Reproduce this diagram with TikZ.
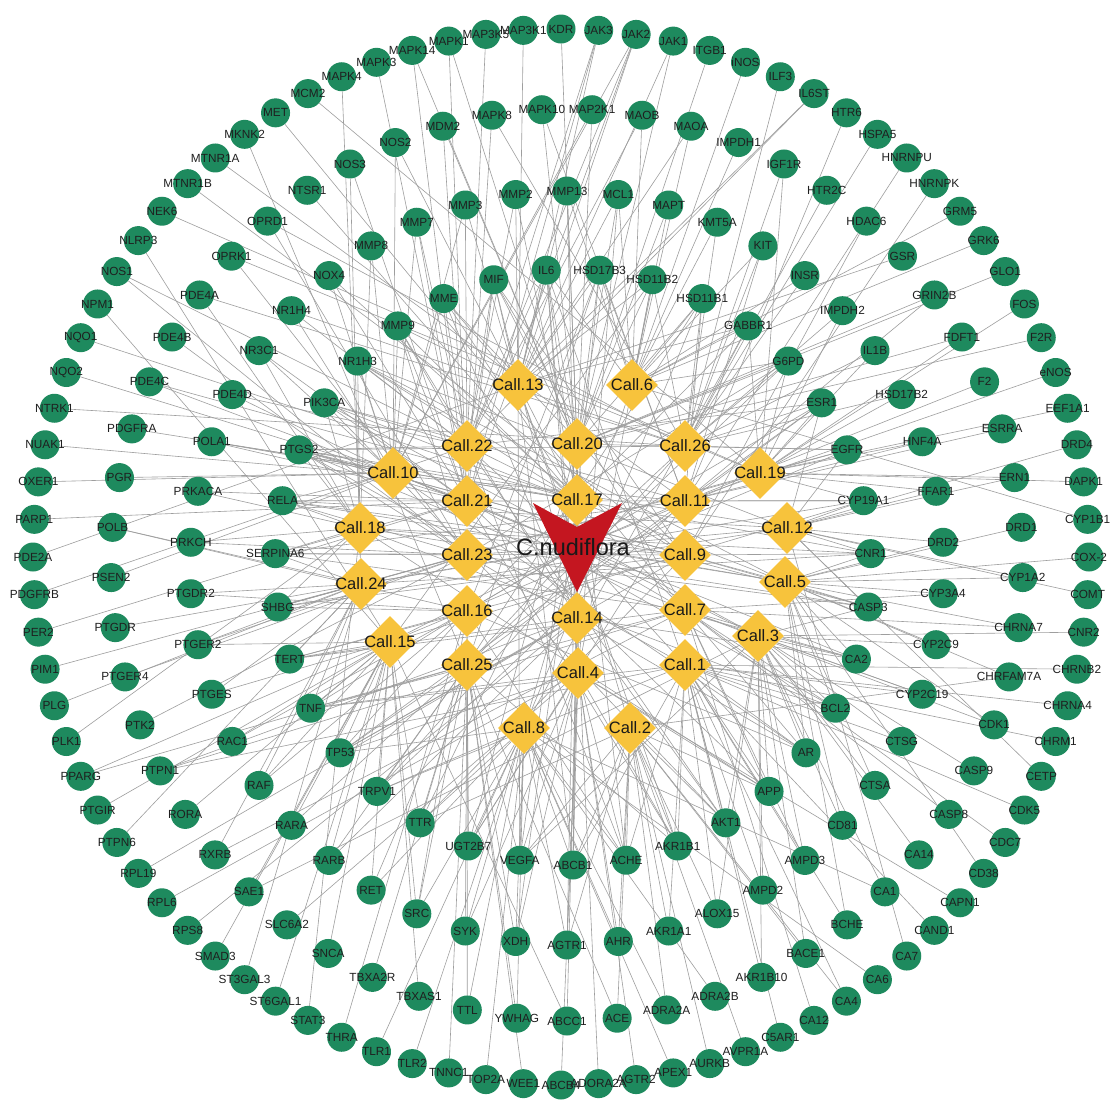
\documentclass[tikz,border=0pt]{standalone}
\usepackage{fontspec}
\setmainfont{Liberation Sans}
\usetikzlibrary{shapes.geometric}
\pgfdeclarelayer{bg}
\pgfdeclarelayer{fg}
\pgfsetlayers{bg,main,fg}
\definecolor{tgreen}{RGB}{30,138,94}
\definecolor{cyell}{RGB}{247,195,60}
\definecolor{hred}{RGB}{196,22,32}
\def\ringA{KDR,JAK3,JAK2,JAK1,ITGB1,iNOS,ILF3,IL6ST,HTR6,HSPA5,HNRNPU,HNRNPK,GRM5,GRK6,GLO1,FOS,F2R,eNOS,EEF1A1,DRD4,DAPK1,CYP1B1,COX-2,COMT,CNR2,CHRNB2,CHRNA4,CHRM1,CETP,CDK5,CDC7,CD38,CAPN1,CAND1,CA7,CA6,CA4,CA12,C5AR1,AVPR1A,AURKB,APEX1,AGTR2,ADORA2A,ABCB4,WEE1,TOP2A,TNNC1,TLR2,TLR1,THRA,STAT3,ST6GAL1,ST3GAL3,SMAD3,RPS8,RPL6,RPL19,PTPN6,PTGIR,PPARG,PLK1,PLG,PIM1,PER2,PDGFRB,PDE2A,PARP1,OXER1,NUAK1,NTRK1,NQO2,NQO1,NPM1,NOS1,NLRP3,NEK6,MTNR1B,MTNR1A,MKNK2,MET,MCM2,MAPK4,MAPK3,MAPK14,MAPK1,MAP3K5,MAP3K1}
\def\ringB{MAPK10,MAPK8,MDM2,NOS2,NOS3,NTSR1,OPRD1,OPRK1,PDE4A,PDE4B,PDE4C,PDGFRA,PGR,POLB,PSEN2,PTGDR,PTGER4,PTK2,PTPN1,RORA,RXRB,SAE1,SLC6A2,SNCA,TBXA2R,TBXAS1,TTL,YWHAG,ABCC1,ACE,ADRA2A,ADRA2B,AKR1B10,BACE1,BCHE,CA1,CA14,CASP8,CASP9,CDK1,CHRFAM7A,CHRNA7,CYP1A2,DRD1,ERN1,ESRRA,F2,FDFT1,GRIN2B,GSR,HDAC6,HTR2C,IGF1R,IMPDH1,MAOA,MAOB,MAP2K1}
\def\ringC{MMP13,MMP2,MMP3,MMP7,MMP8,NOX4,NR1H4,NR3C1,PDE4D,POLA1,PRKACA,PRKCH,PTGDR2,PTGER2,PTGES,RAC1,RAF,RARA,RARB,RET,SRC,SYK,XDH,AGTR1,AHR,AKR1A1,ALOX15,AMPD2,AMPD3,CD81,CTSA,CTSG,CYP2C19,CYP2C9,CYP3A4,DRD2,FFAR1,HNF4A,HSD17B2,IL1B,IMPDH2,INSR,KIT,KMT5A,MAPT,MCL1}
\def\ringD{HSD17B3,IL6,MIF,MME,MMP9,NR1H3,PIK3CA,PTGS2,RELA,SERPINA6,SHBG,TERT,TNF,TP53,TRPV1,TTR,UGT2B7,VEGFA,ABCB1,ACHE,AKR1B1,AKT1,APP,AR,BCL2,CA2,CASP3,CNR1,CYP19A1,EGFR,ESR1,G6PD,GABBR1,HSD11B1,HSD11B2}
\begin{document}
\begin{tikzpicture}[x=1pt,y=-1pt,
  tgt/.style={circle,fill=tgreen,draw=none,minimum size=29pt,inner sep=0pt},
  cpd/.style={diamond,fill=cyell,draw=none,minimum width=52pt,minimum height=52pt,inner sep=0pt},
  tlab/.style={font=\fontsize{11.8}{12}\selectfont,text=black!88,inner sep=0pt},
  clab/.style={font=\fontsize{16.5}{17}\selectfont,text=black!90,inner sep=0pt},
  hlab/.style={font=\fontsize{23.5}{24}\selectfont,text=black!90,inner sep=0pt},
  edge/.style={draw=black!38,line width=0.6pt}]
\useasboundingbox (0,0) rectangle (1111,1101);
% rings of targets
\foreach \n [count=\k] in \ringA {
  \pgfmathsetmacro\a{90-(\k-1)*4.090909}
  \node[tgt] (\n) at ({561+528*cos(\a)},{557-528*sin(\a)}) {};
}
\foreach \n [count=\k] in \ringB {
  \pgfmathsetmacro\a{93.158+(\k-1)*6.315789}
  \node[tgt] (\n) at ({567+456*cos(\a)},{565-456*sin(\a)}) {};
}
\foreach \n [count=\k] in \ringC {
  \pgfmathsetmacro\a{90+(\k-1)*7.826087}
  \node[tgt] (\n) at ({567+377*cos(\a)},{568-377*sin(\a)}) {};
}
\foreach \n [count=\k] in \ringD {
  \pgfmathsetmacro\a{84.857+(\k-1)*10.285714}
  \node[tgt] (\n) at ({573+298*cos(\a)},{567-298*sin(\a)}) {};
}
% compounds
\foreach \i/\x/\y in {1/685/665,2/630/728,3/758/636,4/578/673,5/785/582,6/632/385,7/685/610,8/524/728,9/685/555,10/393/473,11/685/501,12/787/528,13/518/385,14/577/618,15/390/642,16/467/611,17/577/500,18/360/528,19/760/473,20/577/444,21/467/501,22/467/446,23/467/555,24/361/584,25/467/665,26/685/446} {
  \node[cpd] (c\i) at (\x,\y) {};
}
% herb
\node[circle,minimum size=4pt,inner sep=0pt] (herb) at (577,547) {};
\fill[hred] (533,503) -- (577,527) -- (622,503) -- (577,592) -- cycle;
% edges
\begin{pgfonlayer}{bg}
\fill[white] (0,0) rectangle (1111,1101);
\foreach \i in {1,...,26} { \draw[edge] (herb) -- (c\i); }
\foreach \t/\cs in {KDR/20,JAK3/{13,22,21},JAK2/{13,22,10,21},JAK1/{13,20},ITGB1/20,iNOS/6,ILF3/26,IL6ST/{13,22},HTR6/11,HSPA5/26,HNRNPU/11,HNRNPK/9,GRM5/6,GRK6/6,GLO1/20,FOS/19,F2R/20,eNOS/11,EEF1A1/19,DRD4/12,DAPK1/19,CYP1B1/6,COX-2/5,COMT/12,CNR2/3,CHRNB2/1,CHRNA4/1,CHRM1/1,CETP/12,CDK5/1,CDC7/7,CD38/5,CAPN1/4,CAND1/1,CA7/12,CA6/8,CA4/{1,2},CA12/7,C5AR1/1,AVPR1A/2,AURKB/2,APEX1/8,AGTR2/4,ADORA2A/14,ABCB4/4,WEE1/25,TOP2A/8,TNNC1/25,TLR2/8,TLR1/8,THRA/16,STAT3/18,ST6GAL1/15,ST3GAL3/24,SMAD3/15,RPS8/14,RPL6/4,RPL19/14,PTPN6/24,PTGIR/15,PPARG/{15,25},PLK1/18,PLG/24,PIM1/23,PER2/21,PDGFRB/22,PDE2A/13,PARP1/21,OXER1/10,NUAK1/11,NTRK1/26,NQO2/10,NQO1/17,NPM1/15,NOS1/{17,23},NLRP3/15,NEK6/19,MTNR1B/9,MTNR1A/11,MKNK2/25,MET/7,MCM2/19,MAPK4/18,MAPK3/21,MAPK14/{21,20},MAPK1/{21,20},MAP3K5/22,MAP3K1/13,
MAPK10/{20,11},MAPK8/{21,26},MDM2/{20,21},NOS2/{10,17},NOS3/{24,21},NTSR1/17,OPRD1/{26,23},OPRK1/{19,23},PDE4A/{26,18},PDE4B/23,PDE4C/{17,21},PDGFRA/17,PGR/10,POLB/{24,16},PSEN2/10,PTGDR/24,PTGER4/23,PTK2/23,PTPN1/{7,14,1},RORA/15,RXRB/{24,7},SAE1/{3,15},SLC6A2/4,SNCA/15,TBXA2R/25,TBXAS1/15,TTL/{16,8},YWHAG/{8,25},ABCC1/{14,15},ACE/{2,25},ADRA2A/{8,2},ADRA2B/8,AKR1B10/{3,1},BACE1/{2,3},BCHE/{5,1},CA1/{8,3},CA14/3,CASP8/7,CASP9/3,CDK1/{5,7},CHRFAM7A/{2,5},CHRNA7/{5,7},CYP1A2/{5,12},DRD1/5,ERN1/{12,19},ESRRA/11,F2/11,FDFT1/{19,20},GRIN2B/{11,20},GSR/13,HDAC6/9,HTR2C/26,IGF1R/{19,26},IMPDH1/6,MAOA/{6,13},MAOB/{22,6},MAP2K1/{10,20},
MMP13/{20,13,6,14},MMP2/{13,22,17},MMP3/{13,22,10},MMP7/{10,22,21},MMP8/{10,18},NOX4/{10,21,17},NR1H4/{10,22,26},NR3C1/{10,21,18},PDE4D/{10,22},POLA1/{21,10,17},PRKACA/{18,21},PRKCH/{18,23},PTGDR2/{24,16},PTGER2/{24,15,23},PTGES/{15,24},RAC1/{15,16},RAF/{15,24,16},RARA/{15,25},RARB/{15,25,14},RET/{15,25,8},SRC/{25,8,15,16},SYK/{25,8,4},XDH/{8,25,4,17},AGTR1/{4,8,2,20},AHR/{2,4,8},AKR1A1/{2,1},ALOX15/{1,2,3},AMPD2/{3,1},AMPD3/{3,1,7},CD81/{3,5},CTSA/{3,5},CTSG/{3,1},CYP2C19/{3,7,1},CYP2C9/{3,5},CYP3A4/{5,7},DRD2/{12,5},FFAR1/{19,12},HNF4A/{19,11},HSD17B2/{19,26},IL1B/{19,26},IMPDH2/{26,19},INSR/{26,6},KIT/{26,6,11},KMT5A/{6,26},MAPT/{6,20},MCL1/{6,20,13,4},
HSD17B3/{6,20,13,17,11,25,16},IL6/{13,20,22,6,17,4,14,1},MIF/{13,22,20,21,9,7,14},MME/{22,13,10,17,9,14},MMP9/{10,22,21,13,23,14,7},NR1H3/{10,22,18,17,9,12,5},PIK3CA/{10,18,22,21,11,5,3},PTGS2/{10,18,21,22,17,23,26,9,12,5,7,1},RELA/{18,10,21,23,12,9,5},SERPINA6/{18,24,23,21,7,11,9},SHBG/{24,18,23,16,9,12,19},TERT/{24,15,16,14,9,7},TNF/{15,24,25,16,4,7,1},TP53/{15,25,16,8,14,4,9,11},TRPV1/{15,25,8,1,11,26},TTR/{25,8,15,2,9,17},UGT2B7/{8,25,4,16,20,11},VEGFA/{8,4,2,25,3,20,13},ABCB1/{4,8,2,14,1,17,13},ACHE/{2,4,8,1,16,22,20},AKR1B1/{2,1,4,25,21,13},AKT1/{1,2,3,14,22,10},APP/{3,1,2,7,4,21,18},AR/{3,1,7,5,16,23,10},BCL2/{3,5,1,7,18,21},CA2/{3,5,7,14,23,10},CASP3/{5,3,12,9,23,18,21},CNR1/{12,5,9,17,24,18},CYP19A1/{12,19,11,21,24,15},EGFR/{19,12,26,20,23,15},ESR1/{19,26,11,12,22,16,25},G6PD/{26,19,6,20,23,25},GABBR1/{26,6,19,13,16,8},HSD11B1/{6,26,20,11,25,8},HSD11B2/{6,20,13,26,15,4}} {
  \foreach \c in \cs { \draw[edge] (\t) -- (c\c); }
}
\end{pgfonlayer}
% labels
\begin{pgfonlayer}{fg}
\foreach \n in \ringA { \node[tlab] at (\n) {\n}; }
\foreach \n in \ringB { \node[tlab] at (\n) {\n}; }
\foreach \n in \ringC { \node[tlab] at (\n) {\n}; }
\foreach \n in \ringD { \node[tlab] at (\n) {\n}; }
\foreach \i in {1,...,26} { \node[clab] at (c\i) {Call.\i}; }
\node[hlab] at (573,547) {C.nudiflora};
\end{pgfonlayer}
\end{tikzpicture}
\end{document}
